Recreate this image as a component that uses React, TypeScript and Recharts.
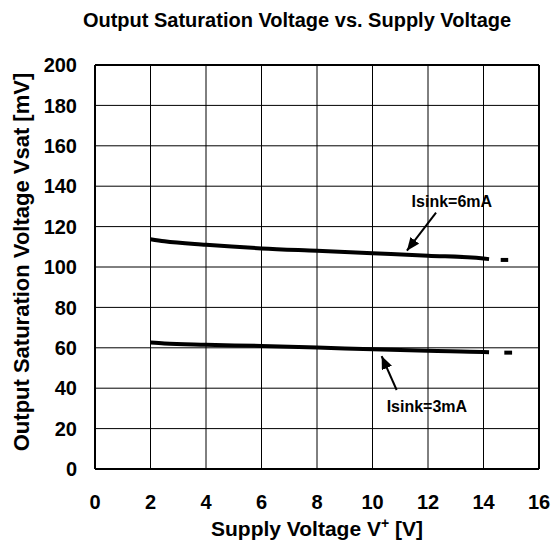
import { LineChart, Line, XAxis, YAxis, CartesianGrid, ReferenceLine, ReferenceDot } from "recharts";

const xTicks = [0, 2, 4, 6, 8, 10, 12, 14, 16];
const yTicks = [0, 20, 40, 60, 80, 100, 120, 140, 160, 180, 200];

// Isink = 6mA
const supplyV6 = [2, 2.5, 4, 6, 8, 10, 12, 14, 14.2];
const vsat6mA = [113.7, 112.7, 111.0, 109.2, 108.0, 106.8, 105.6, 104.2, 103.9];
// Isink = 3mA
const supplyV3 = [2, 2.5, 4, 6, 8, 10, 12, 14, 14.2];
const vsat3mA = [62.6, 62.1, 61.5, 60.9, 60.1, 59.3, 58.5, 57.9, 57.8];
// short stubs right of the curves
const stub6V = [14.62, 14.89];
const stub6 = [103.5, 103.5];
const stub3V = [14.75, 15.03];
const stub3 = [57.6, 57.6];

const toRows = (xs: number[], ys: number[]) => xs.map((v, i) => ({ v, mv: ys[i] }));

const font = "'Liberation Sans', Arial, sans-serif";
const tickStyle = { fill: "#000", fontSize: 20, fontWeight: "bold", fontFamily: font };

function YLabel(props: any) {
  const { viewBox } = props;
  const cx = viewBox.x + 21;
  const cy = viewBox.y + viewBox.height / 2 - 5;
  return (
    <text x={cx} y={cy} transform={`rotate(-90 ${cx} ${cy})`} textAnchor="middle" dominantBaseline="central"
      fontSize={22} fontWeight="bold" fontFamily={font} fill="#000">
      Output Saturation Voltage Vsat [mV]
    </text>
  );
}

function XLabel(props: any) {
  const { viewBox } = props;
  const cx = viewBox.x + viewBox.width / 2;
  return (
    <text x={cx} y={viewBox.y + 67} textAnchor="middle" fontSize={21} fontWeight="bold" fontFamily={font} fill="#000">
      Supply Voltage V<tspan dy={-8} fontSize={14}>+</tspan><tspan dy={8}> [V]</tspan>
    </text>
  );
}

export default function App() {
  return (
    <div style={{ position: "absolute", left: 0, top: 0, width: 556, height: 544, background: "#fff" }}>
      <div style={{ position: "absolute", left: 37, top: 10, width: 520, textAlign: "center", fontFamily: font,
        fontWeight: "bold", fontSize: 20, lineHeight: "20px", color: "#000" }}>
        Output Saturation Voltage vs. Supply Voltage
      </div>
      <LineChart width={556} height={544} margin={{ top: 65, right: 17, left: 0, bottom: 0 }}>
        <defs>
          <marker id="arrow" markerUnits="userSpaceOnUse" markerWidth={13} markerHeight={11} refX={13} refY={5.5} orient="auto">
            <path d="M0,0 L13,5.5 L0,11 z" fill="#000" />
          </marker>
        </defs>
        <CartesianGrid stroke="#000" strokeWidth={1} />
        <XAxis type="number" dataKey="v" domain={[0, 16]} ticks={xTicks} height={75} tickLine={false}
          axisLine={{ stroke: "#000", strokeWidth: 2 }} tick={tickStyle} tickMargin={20} allowDuplicatedCategory={false}
          label={{ content: <XLabel /> }} />
        <YAxis type="number" domain={[0, 200]} ticks={yTicks} width={95} tickLine={false}
          axisLine={{ stroke: "#000", strokeWidth: 2 }} tick={tickStyle} tickMargin={12}
          label={{ content: <YLabel /> }} />
        <ReferenceLine y={200} stroke="#000" strokeWidth={2} />
        <ReferenceLine x={16} stroke="#000" strokeWidth={2} />
        <Line data={toRows(supplyV6, vsat6mA)} dataKey="mv" type="monotone" stroke="#000" strokeWidth={4} dot={false} isAnimationActive={false} />
        <Line data={toRows(supplyV3, vsat3mA)} dataKey="mv" type="monotone" stroke="#000" strokeWidth={4} dot={false} isAnimationActive={false} />
        <Line data={toRows(stub6V, stub6)} dataKey="mv" type="linear" stroke="#000" strokeWidth={4} dot={false} isAnimationActive={false} />
        <Line data={toRows(stub3V, stub3)} dataKey="mv" type="linear" stroke="#000" strokeWidth={4} dot={false} isAnimationActive={false} />
        <ReferenceLine segment={[{ x: 12.29, y: 126.9 }, { x: 11.24, y: 108.1 }]} stroke="#000" strokeWidth={2} markerEnd="url(#arrow)" />
        <ReferenceLine segment={[{ x: 10.87, y: 39.1 }, { x: 10.33, y: 55.9 }]} stroke="#000" strokeWidth={2} markerEnd="url(#arrow)" />
        <ReferenceDot x={12.86} y={132.3} r={0} fill="none" stroke="none"
          label={{ value: "Isink=6mA", position: "center", fontSize: 16, fontWeight: "bold", fontFamily: font, fill: "#000" }} />
        <ReferenceDot x={11.96} y={31.2} r={0} fill="none" stroke="none"
          label={{ value: "Isink=3mA", position: "center", fontSize: 16, fontWeight: "bold", fontFamily: font, fill: "#000" }} />
      </LineChart>
    </div>
  );
}
